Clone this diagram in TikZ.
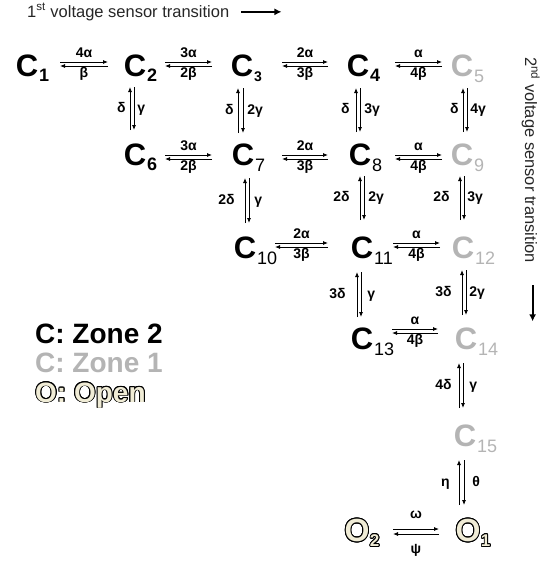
\documentclass[tikz,border=0pt]{standalone}
\usepackage{fontspec}
\setmainfont{Liberation Sans}
\usepackage{contour}
\contourlength{0.9pt}
\usetikzlibrary{arrows.meta}
\definecolor{zoneone}{RGB}{180,180,180}
\definecolor{cream}{RGB}{240,236,214}
\newcommand\subB[1]{\rlap{\hspace{1pt}\smash{\raisebox{-5pt}{\fontsize{18}{18}\selectfont\bfseries #1}}}}
\newcommand\subR[1]{\rlap{\hspace{1pt}\smash{\raisebox{-6pt}{\fontsize{18}{18}\selectfont\mdseries #1}}}}
\newcommand\subO[1]{\rlap{\hspace{0.5pt}\smash{\raisebox{-5pt}{\fontsize{17}{17}\selectfont\bfseries\contour{black}{#1}}}}}
\tikzset{
  cnode/.style={inner sep=0pt, font=\fontsize{31}{31}\selectfont\bfseries},
  ztwo/.style={cnode, text=black},
  zone/.style={cnode, text=zoneone},
  onode/.style={cnode, font=\fontsize{32}{32}\selectfont\bfseries, text=cream},
  lab/.style={inner sep=0pt, text height=9.5pt, text depth=2.5pt, font=\fontsize{14}{14}\selectfont\bfseries, text=black},
  fa/.style={-{Latex[length=5pt,width=4pt]}, line width=0.8pt},
  bigarrow/.style={-{Latex[length=7pt,width=7pt]}, line width=2.2pt},
  legend/.style={inner sep=0pt, anchor=base west, font=\fontsize{28}{28}\selectfont\bfseries},
  caption/.style={inner sep=0pt, font=\fontsize{16.5}{16.5}\selectfont, text=black!85}
}
\begin{document}
\begin{tikzpicture}[x=1pt,y=-1pt]
\useasboundingbox (0,0) rectangle (552,565);
% states
\node[ztwo] (c1) at (27,66) {C\subB{1}};
\node[ztwo] (c2) at (135,66) {C\subB{2}};
\node[ztwo] (c3) at (242,66) {C\subB{\fontsize{14}{14}\selectfont 3}};
\node[ztwo] (c4) at (358,66) {C\subB{4}};
\node[zone] (c5) at (462,66) {C\subR{5}};
\node[ztwo] (c6) at (135,155) {C\subB{6}};
\node[ztwo] (c7) at (243,155) {C\subR{7}};
\node[ztwo] (c8) at (360,155) {C\subR{8}};
\node[zone] (c9) at (462,155) {C\subR{9}};
\node[ztwo] (c10) at (245,248) {C\subR{10}};
\node[ztwo] (c11) at (362,248) {C\subR{11}};
\node[zone] (c12) at (463,248) {C\subR{12}};
\node[ztwo] (c13) at (362,339) {C\subR{13}};
\node[zone] (c14) at (466,339) {C\subR{14}};
\node[zone] (c15) at (465,436) {C\subR{15}};
\node[onode] (o2) at (357,531) {\contour{black}{O}\subO{2}};
\node[onode] (o1) at (468,531) {\contour{black}{O}\subO{1}};
% row 1 horizontal
\draw[fa] ([shift={(33,-4)}]c1.center) -- ([shift={(-27,-4)}]c2.center) node[lab,midway,above=2pt]{4α};
\draw[fa] ([shift={(-27,0)}]c2.center) -- ([shift={(33,0)}]c1.center) node[lab,midway,below=2pt]{β};
\draw[fa] ([shift={(30,-4)}]c2.center) -- ([shift={(-30,-4)}]c3.center) node[lab,midway,above=2pt]{3α};
\draw[fa] ([shift={(-30,0)}]c3.center) -- ([shift={(30,0)}]c2.center) node[lab,midway,below=2pt]{2β};
\draw[fa] ([shift={(40,-4)}]c3.center) -- ([shift={(-30,-4)}]c4.center) node[lab,midway,above=2pt]{2α};
\draw[fa] ([shift={(-30,0)}]c4.center) -- ([shift={(40,0)}]c3.center) node[lab,midway,below=2pt]{3β};
\draw[fa] ([shift={(37,-4)}]c4.center) -- ([shift={(-20,-4)}]c5.center) node[lab,midway,above=2pt]{α};
\draw[fa] ([shift={(-20,0)}]c5.center) -- ([shift={(37,0)}]c4.center) node[lab,midway,below=2pt]{4β};
% row 2 horizontal
\draw[fa] ([shift={(30,0)}]c6.center) -- ([shift={(-31,0)}]c7.center) node[lab,midway,above=2pt]{3α};
\draw[fa] ([shift={(-31,4)}]c7.center) -- ([shift={(30,4)}]c6.center) node[lab,midway,below=2pt]{2β};
\draw[fa] ([shift={(39,0)}]c7.center) -- ([shift={(-32,0)}]c8.center) node[lab,midway,above=2pt]{2α};
\draw[fa] ([shift={(-32,4)}]c8.center) -- ([shift={(39,4)}]c7.center) node[lab,midway,below=2pt]{3β};
\draw[fa] ([shift={(35,0)}]c8.center) -- ([shift={(-20,0)}]c9.center) node[lab,midway,above=2pt]{α};
\draw[fa] ([shift={(-20,4)}]c9.center) -- ([shift={(35,4)}]c8.center) node[lab,midway,below=2pt]{4β};
% row 3 horizontal
\draw[fa] ([shift={(30,-5)}]c10.center) -- ([shift={(-34,-5)}]c11.center) node[lab,midway,above=2pt]{2α};
\draw[fa] ([shift={(-34,-1)}]c11.center) -- ([shift={(30,-1)}]c10.center) node[lab,midway,below=2pt]{3β};
\draw[fa] ([shift={(31,-5)}]c11.center) -- ([shift={(-23,-5)}]c12.center) node[lab,midway,above=2pt]{α};
\draw[fa] ([shift={(-23,-1)}]c12.center) -- ([shift={(31,-1)}]c11.center) node[lab,midway,below=2pt]{4β};
% row 4 horizontal
\draw[fa] ([shift={(30,-10)}]c13.center) -- ([shift={(-28,-10)}]c14.center) node[lab,midway,above=2pt]{α};
\draw[fa] ([shift={(-28,-6)}]c14.center) -- ([shift={(30,-6)}]c13.center) node[lab,midway,below=2pt]{4β};
% open states
\draw[fa] ([shift={(36,-2)}]o2.center) -- ([shift={(-29,-2)}]o1.center) node[lab,midway,above=8pt]{ω};
\draw[fa] ([shift={(-29,3)}]o1.center) -- ([shift={(36,3)}]o2.center) node[lab,midway,below=10pt]{ψ};
% vertical transitions
\draw[fa] ([shift={(-5,-25)}]c6.center) -- ([shift={(-5,21)}]c2.center) node[lab,midway,left=4pt]{δ};
\draw[fa] ([shift={(-1,21)}]c2.center) -- ([shift={(-1,-25)}]c6.center) node[lab,midway,right=3pt]{γ};
\draw[fa] ([shift={(-5,-22)}]c7.center) -- ([shift={(-4,22)}]c3.center) node[lab,midway,left=4pt]{δ};
\draw[fa] ([shift={(1,22)}]c3.center) -- ([shift={(0,-22)}]c7.center) node[lab,midway,right=4pt]{2γ};
\draw[fa] ([shift={(-4,-23)}]c8.center) -- ([shift={(-2,22)}]c4.center) node[lab,midway,left=6pt]{δ};
\draw[fa] ([shift={(2,22)}]c4.center) -- ([shift={(0,-23)}]c8.center) node[lab,midway,right=4pt]{3γ};
\draw[fa] ([shift={(1,-23)}]c9.center) -- ([shift={(1,22)}]c5.center) node[lab,midway,left=4pt]{δ};
\draw[fa] ([shift={(5,22)}]c5.center) -- ([shift={(5,-23)}]c9.center) node[lab,midway,right=3pt]{4γ};
\draw[fa] ([shift={(0,-25)}]c10.center) -- ([shift={(2,23)}]c7.center) node[lab,midway,left=10pt]{2δ};
\draw[fa] ([shift={(6,23)}]c7.center) -- ([shift={(4,-25)}]c10.center) node[lab,midway,right=5pt]{γ};
\draw[fa] ([shift={(-2,-28)}]c11.center) -- ([shift={(0,21)}]c8.center) node[lab,midway,left=10pt]{2δ};
\draw[fa] ([shift={(4,21)}]c8.center) -- ([shift={(2,-28)}]c11.center) node[lab,midway,right=4pt]{2γ};
\draw[fa] ([shift={(-3,-28)}]c12.center) -- ([shift={(-2,21)}]c9.center) node[lab,midway,left=10pt]{2δ};
\draw[fa] ([shift={(2,21)}]c9.center) -- ([shift={(1,-28)}]c12.center) node[lab,midway,right=3pt]{3γ};
\draw[fa] ([shift={(-5,-22)}]c13.center) -- ([shift={(-5,24)}]c11.center) node[lab,midway,left=11pt]{3δ};
\draw[fa] ([shift={(-1,24)}]c11.center) -- ([shift={(-1,-22)}]c13.center) node[lab,midway,right=6pt]{γ};
\draw[fa] ([shift={(-4,-24)}]c14.center) -- ([shift={(-1,22)}]c12.center) node[lab,midway,left=10pt]{3δ};
\draw[fa] ([shift={(3,22)}]c12.center) -- ([shift={(0,-24)}]c14.center) node[lab,midway,right=3pt]{2γ};
\draw[fa] ([shift={(-6,-28)}]c15.center) -- ([shift={(-7,24)}]c14.center) node[lab,midway,left=7pt]{4δ};
\draw[fa] ([shift={(-3,24)}]c14.center) -- ([shift={(-2,-28)}]c15.center) node[lab,midway,right=6pt]{γ};
\draw[fa] ([shift={(-9,-26)}]o1.center) -- ([shift={(-6,24)}]c15.center) node[lab,midway,left=9pt]{η};
\draw[fa] ([shift={(-1,24)}]c15.center) -- ([shift={(-4,-26)}]o1.center) node[lab,midway,right=8pt]{θ};
% captions
\node[caption, anchor=base west] (t1) at (27,17) {1\textsuperscript{st} voltage sensor transition};
\draw[bigarrow] ([xshift=12pt]t1.east) -- ++(40,0);
\node[caption, rotate=-90, anchor=base west] (t2) at (525,57) {2\textsuperscript{nd} voltage sensor transition};
\draw[bigarrow] ([shift={(2pt,-22pt)}]t2.east) -- ++(0,36);
% legend
\node[legend, text=black] (l1) at (35,343) {C: Zone 2};
\node[legend, text=zoneone] (l2) at (35,372) {C: Zone 1};
\node[legend, text=cream] (l3) at (35,402) {\contour{black}{O: Open}};
\end{tikzpicture}
\end{document}
